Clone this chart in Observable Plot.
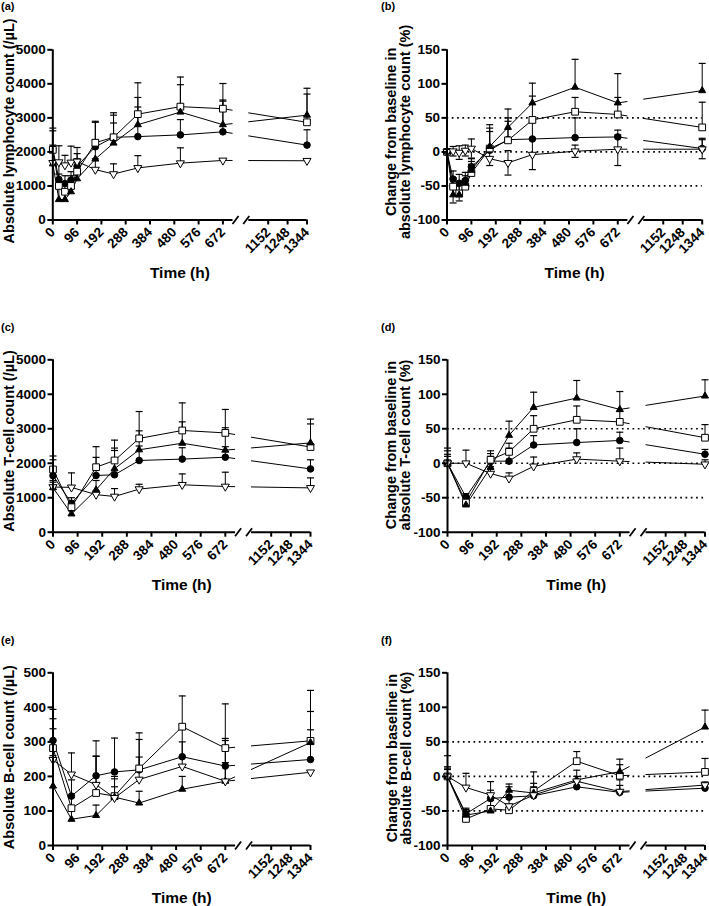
<!DOCTYPE html>
<html><head><meta charset="utf-8">
<script src="https://cdn.jsdelivr.net/npm/d3@7"></script>
<script src="https://cdn.jsdelivr.net/npm/@observablehq/plot@0.6"></script>
<style>
body{margin:0;background:#fff;}
#fig{position:relative;width:709px;height:906px;font-family:"Liberation Sans",Arial,sans-serif;background:#fff;overflow:hidden;}
.panel{position:absolute;}
.tag{position:absolute;font-size:11px;font-weight:bold;line-height:11px;color:#000;}
</style></head><body><div id="fig"></div>
<script>
// ---------- data ----------
const hoursLymph = [0, 24, 48, 72, 96, 168, 240, 336, 504, 672, 1344];
const hoursSubset = [0, 72, 168, 240, 336, 504, 672, 1344];
const seriesNames = ["filled circle", "open square", "filled triangle", "open inverted triangle"];
const xTicks = [0, 96, 192, 288, 384, 480, 576, 672, 1152, 1248, 1344];
const axisBreak = [712, 1056];
const xEnds = [0, 1344];
const countTicks = [0, 1000, 2000, 3000, 4000, 5000];
const bcellTicks = [0, 100, 200, 300, 400, 500];
const changeTicks = [-100, -50, 0, 50, 100, 150];
const refLevels = [-50, 0, 50];

// (a) absolute lymphocyte count, mean and upper error bound
const lymphCount = [
  [2100, 1190, 1070, 1170, 1580, 2150, 2430, 2450, 2500, 2590, 2200],
  [2060, 1000, 830, 1000, 1420, 2270, 2430, 3110, 3330, 3270, 2870],
  [1650, 600, 600, 830, 1210, 1790, 2260, 2800, 3170, 2800, 3080],
  [1680, 1700, 1610, 1690, 1720, 1480, 1350, 1530, 1670, 1750, 1740]
];
const lymphCountHigh = [
  [2700, 1650, 1300, 1420, 1950, 2870, 3080, 3320, 2950, 3490, 2650],
  [2620, 1350, 1100, 1300, 1800, 2900, 3150, 4030, 4200, 4010, 3700],
  [2200, 1000, 900, 1200, 1700, 2350, 2850, 3600, 3975, 3525, 3870],
  [2050, 2180, 1900, 2170, 2130, 1800, 1650, 1890, 2120, null, null]
];
// (b) change from baseline in lymphocyte count (%)
const lymphChange = [
  [0, -40, -46, -42, -22, 2.5, 18, 19, 21, 22, 5],
  [0, -51, -61, -51, -31, 5, 17, 47, 59, 55, 36],
  [0, -63, -63, -46, -27, 8, 36, 72, 95, 72, 90],
  [0, 1, -1, 2, 5, -10, -16, -4, 1, 4, 4]
];
const lymphChangeHigh = [
  [null, -28, -33, -30, -10, 30, 45, 45, 50, 32, 20],
  [null, -38, -45, -40, -18, 35, 50, 82, 80, 80, 73],
  [null, -52, -48, -35, -14, 40, 63, 101, 136, 115, 130],
  [null, 8, 9, 10, 19, 5, 2, 20, 10, 25, 18]
];
const lymphChangeLow = [
  [null, null, null, null, null, null, null, null, null, null, null],
  [null, null, null, null, null, null, null, null, null, null, null],
  [null, -75, -72, null, null, null, null, null, null, null, null],
  [null, -6, -11, -6, -9, -20, -34, -26, -8, -20, -10]
];
// (c) absolute T-cell count
const tcellCount = [
  [1640, 840, 1645, 1665, 2080, 2120, 2175, 1835],
  [1820, 725, 1885, 2080, 2720, 2950, 2880, 2470],
  [1290, 530, 1230, 1840, 2390, 2580, 2380, 2590],
  [1310, 1300, 1090, 1035, 1250, 1375, 1325, 1285]
];
const tcellCountHigh = [
  [2100, 1000, 2170, 2440, 2500, 2450, 2480, 2100],
  [2210, 900, 2480, 2670, 3500, 3750, 3560, 3140],
  [1500, 620, 1500, 2370, 2940, 3200, 3030, 3280],
  [1450, 1720, 1200, 1265, 1390, 1690, 1740, 1575]
];
// (d) change from baseline in T-cell count (%)
const tcellChange = [
  [0, -49, 3, 3, 26.5, 30, 33, 13],
  [0, -57, 5, 16.5, 50, 63, 60, 37],
  [0, -60.5, -6, 40.5, 81, 94.5, 78, 97.5],
  [0, 0, -15, -22, -4.5, 6, 3, -1.5]
];
const tcellChangeHigh = [
  [13, -44, 14, 22, 40, 50, 45, 20],
  [18, -52, 18, 29, 69, 83, 75, 56],
  [22, -55, 10, 61, 103, 120, 104, 121],
  [10, 19, -5, -14, 9, 15, 22, 5]
];
// (e) absolute B-cell count
const bcellCount = [
  [304, 143, 202, 213, 219, 257, 230, 249],
  [282, 108, 152, 143, 223, 344, 282, 303],
  [172, 76, 87, 140, 123, 163, 186, 298],
  [248, 206, 176, 138, 191, 229, 186, 212]
];
const bcellCountHigh = [
  [394, 190, 303, 311, 307, 350, 310, 335],
  [367, 140, 258, 193, 326, 433, 410, 388],
  [260, 100, 117, 170, 157, 200, 240, 449],
  [338, 268, 259, 200, 256, 300, 304, null]
];
// (f) change from baseline in B-cell count (%)
const bcellChange = [
  [0, -54, -32, -30, -28, -15, -23, -17],
  [0, -61.5, -47, -49, -21, 22, 1, 6.5],
  [0, -56, -50, -20, -24, -5, 7, 71.5],
  [0, -16, -27, -43, -27, -7, -22, -12.5]
];
const bcellChangeHigh = [
  [14, -46, -20, -15, -20, -5, -13, -12],
  [12, -55, -30, -40, -10, 36, 17, 26],
  [10, -48, -35, -11, -15, 9, 25, 96],
  [30, 4.5, -7.5, -30, 6.5, 0, -5, -8]
];

// ---------- styling ----------
const invTriangle = {draw(ctx, size) {
  const y = Math.sqrt(size / (Math.sqrt(3) * 3)), s = Math.sqrt(3) * y;
  ctx.moveTo(0, 2 * y); ctx.lineTo(-s, -y); ctx.lineTo(s, -y); ctx.closePath();
}};
const upTriangle = {draw(ctx, size) {
  const y = Math.sqrt(size / (Math.sqrt(3) * 3)), s = Math.sqrt(3) * y;
  ctx.moveTo(0, -2 * y); ctx.lineTo(s, y); ctx.lineTo(-s, y); ctx.closePath();
}};
const capSymbol = {draw(ctx) { ctx.moveTo(-3.5, 0); ctx.lineTo(3.5, 0); }};
const slashSymbol = {draw(ctx) { ctx.moveTo(-3, 4); ctx.lineTo(3, -4); }};
const markerStyles = [
  {symbol: "circle", fill: "black", r: 3.3},
  {symbol: "square", fill: "white", r: 3.8},
  {symbol: upTriangle, fill: "black", r: 2.6},
  {symbol: invTriangle, fill: "white", r: 3.0}
];
const rowGeom = [
  {top: 0, h: 300, yTop: 49.3, yBot: 219.5, tagTop: 1},
  {top: 300, h: 300, yTop: 59.3, yBot: 231.7, tagTop: 22},
  {top: 600, h: 306, yTop: 72.3, yBot: 245, tagTop: 35}
];
const colGeom = [
  [{left: 0, w: 354, x0: 52.3, x1: 306.5, tagLeft: 1}, {left: 354, w: 355, x0: 92.5, x1: 347.7, tagLeft: 27}],
  [{left: 0, w: 354, x0: 52.5, x1: 310, tagLeft: 1}, {left: 354, w: 355, x0: 93, x1: 350.5, tagLeft: 27}],
  [{left: 0, w: 354, x0: 52.5, x1: 310, tagLeft: 1}, {left: 354, w: 355, x0: 93, x1: 350.5, tagLeft: 27}]
];

const panels = [
  {tag: "(a)", row: 0, col: 0, hours: hoursLymph, means: lymphCount, highs: lymphCountHigh, lows: null,
   yDomain: [0, 5000], yTicks: countTicks, dotted: false, yLabel: "Absolute lymphocyte count (/µL)", ldx: -43, ldy: -4},
  {tag: "(b)", row: 0, col: 1, hours: hoursLymph, means: lymphChange, highs: lymphChangeHigh, lows: lymphChangeLow,
   yDomain: [-100, 150], yTicks: changeTicks, dotted: true, yLabel: "Change from baseline in\nabsolute lymphocyte count (%)", ldx: -48.5, ldy: -3},
  {tag: "(c)", row: 1, col: 0, hours: hoursSubset, means: tcellCount, highs: tcellCountHigh, lows: null,
   yDomain: [0, 5000], yTicks: countTicks, dotted: false, yLabel: "Absolute T-cell count (/µL)", ldx: -44, ldy: -5},
  {tag: "(d)", row: 1, col: 1, hours: hoursSubset, means: tcellChange, highs: tcellChangeHigh, lows: null,
   yDomain: [-100, 150], yTicks: changeTicks, dotted: true, yLabel: "Change from baseline in\nabsolute T-cell count (%)", ldx: -49, ldy: -1},
  {tag: "(e)", row: 2, col: 0, hours: hoursSubset, means: bcellCount, highs: bcellCountHigh, lows: null,
   yDomain: [0, 500], yTicks: bcellTicks, dotted: false, yLabel: "Absolute B-cell count (/µL)", ldx: -44, ldy: -2},
  {tag: "(f)", row: 2, col: 1, hours: hoursSubset, means: bcellChange, highs: bcellChangeHigh, lows: null,
   yDomain: [-100, 150], yTicks: changeTicks, dotted: true, yLabel: "Change from baseline in\nabsolute B-cell count (%)", ldx: -48, ldy: -1}
];

const fig = document.getElementById("fig");
const FONT = "'Liberation Sans', Arial, sans-serif";

for (const p of panels) {
  const rg = rowGeom[p.row], cg = colGeom[p.row][p.col];
  const W = cg.x1 - cg.x0;
  const xr = [cg.x0, cg.x0 + 0.709 * W, cg.x0 + 0.771 * W, cg.x1];
  const rows = [];
  seriesNames.forEach((s, i) => p.hours.forEach((h, j) => rows.push({
    s, i, h, v: p.means[i][j], hi: p.highs[i][j], lo: p.lows ? p.lows[i][j] : null
  })));
  const hiRows = rows.filter(d => d.hi != null);
  const loRows = rows.filter(d => d.lo != null);
  const yMin = p.yDomain[0], yMax = p.yDomain[1];

  const marks = [
    Plot.line(rows, {x: "h", y: "v", z: "s", stroke: "black", strokeWidth: 1}),
    Plot.rect([axisBreak], {x1: d => d[0], x2: d => d[1], y1: () => yMin, y2: () => yMax, fill: "white"}),
    p.dotted ? Plot.ruleY(refLevels, {x1: () => xEnds[0], x2: () => xEnds[1], stroke: "black", strokeWidth: 1.7, strokeDasharray: "1.7,3.6"}) : null,
    Plot.ruleX(hiRows, {x: "h", y1: "v", y2: "hi", stroke: "black", strokeWidth: 1}),
    Plot.dot(hiRows, {x: "h", y: "hi", symbol: capSymbol, stroke: "black", fill: "none", strokeWidth: 1.2}),
    Plot.ruleX(loRows, {x: "h", y1: "v", y2: "lo", stroke: "black", strokeWidth: 1}),
    Plot.dot(loRows, {x: "h", y: "lo", symbol: capSymbol, stroke: "black", fill: "none", strokeWidth: 1.2}),
    ...markerStyles.map((m, i) => Plot.dot(rows.filter(d => d.i === i), {
      x: "h", y: "v", symbol: m.symbol, r: m.r, fill: m.fill, stroke: "black", strokeWidth: 1
    })),
    // axis lines with break
    Plot.ruleX([xEnds[0]], {y1: () => yMin, y2: () => yMax, stroke: "black", strokeWidth: 2}),
    Plot.ruleY([yMin], {x1: () => xEnds[0], x2: () => axisBreak[0], stroke: "black", strokeWidth: 2}),
    Plot.ruleY([yMin], {x1: () => axisBreak[1], x2: () => xEnds[1], stroke: "black", strokeWidth: 2}),
    Plot.dot([axisBreak[0]], {x: d => d, y: () => yMin, symbol: slashSymbol, stroke: "black", fill: "none", strokeWidth: 1.8, dx: 2.5}),
    Plot.dot([axisBreak[1]], {x: d => d, y: () => yMin, symbol: slashSymbol, stroke: "black", fill: "none", strokeWidth: 1.8, dx: -2.5}),
    Plot.axisY(p.yTicks, {tickSize: 5, tickPadding: 2, tickFormat: d => String(d), strokeWidth: 2,
      fontSize: 13.5, fontWeight: "bold", label: null}),
    Plot.axisX(xTicks, {tickSize: 5, tickPadding: 5, tickRotate: -45, tickFormat: d => String(d), strokeWidth: 2,
      fontSize: 13.5, fontWeight: "bold", label: null}),
    Plot.text([p.yLabel], {frameAnchor: "left", rotate: -90, dx: p.ldx, dy: p.ldy, textAnchor: "middle",
      lineAnchor: "middle", fontSize: 14.5, fontWeight: "bold", lineHeight: 1.0}),
    Plot.text(["Time (h)"], {frameAnchor: "bottom", dy: 53, textAnchor: "middle", lineAnchor: "middle",
      fontSize: 15.5, fontWeight: "bold"})
  ].filter(Boolean);

  const chart = Plot.plot({
    width: cg.w, height: rg.h,
    marginLeft: cg.x0, marginRight: cg.w - cg.x1,
    marginTop: rg.yTop, marginBottom: rg.h - rg.yBot,
    x: {type: "linear", domain: [xEnds[0], axisBreak[0], axisBreak[1], xEnds[1]], range: xr},
    y: {type: "linear", domain: p.yDomain, range: [rg.yBot, rg.yTop]},
    style: {fontFamily: FONT, fontSize: "13px", fontWeight: "bold", color: "black", background: "transparent", overflow: "visible"},
    marks
  });
  const div = document.createElement("div");
  div.className = "panel";
  div.style.left = cg.left + "px";
  div.style.top = rg.top + "px";
  div.appendChild(chart);
  fig.appendChild(div);

  const tag = document.createElement("div");
  tag.className = "tag";
  tag.textContent = p.tag;
  tag.style.left = (cg.left + cg.tagLeft) + "px";
  tag.style.top = (rg.top + rg.tagTop) + "px";
  fig.appendChild(tag);
}
</script>
</body></html>
